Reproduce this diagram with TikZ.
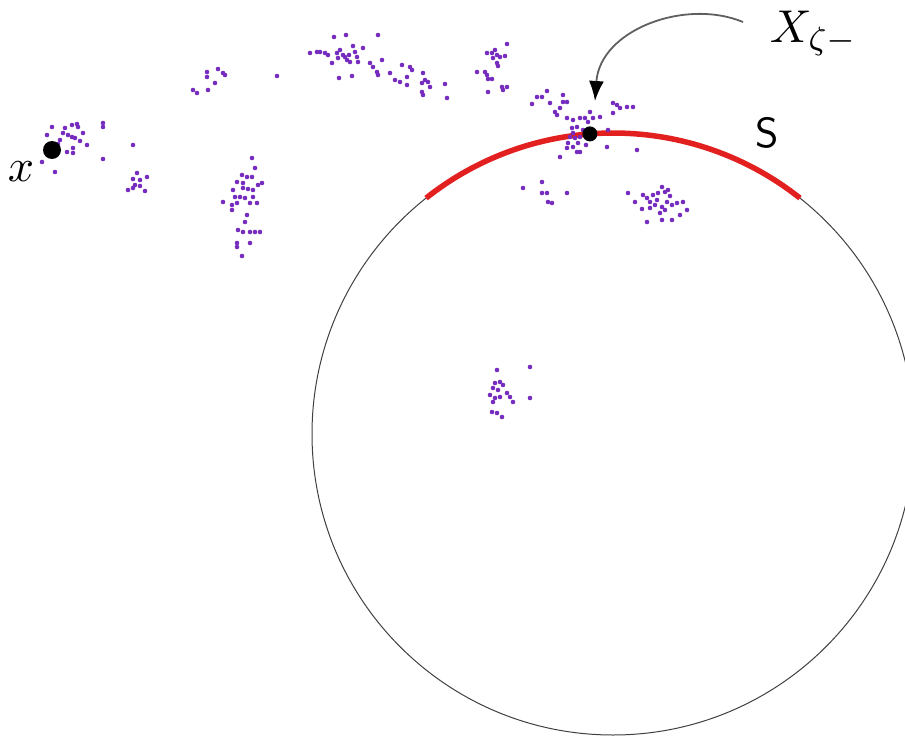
\documentclass[tikz,border=0pt]{standalone}
\usetikzlibrary{arrows.meta,calc}
\definecolor{pdot}{RGB}{118,44,190}
\definecolor{arcred}{RGB}{226,32,32}
\definecolor{arrgray}{RGB}{95,95,95}
\begin{document}
\begin{tikzpicture}[x=1pt,y=1pt,
  scatter/.style={fill=pdot},
  bigdot/.style={circle,fill=black,inner sep=0pt},
  ring/.style={draw=black!75,line width=1pt},
  redarc/.style={draw=arcred,line width=5.5pt},
  pointer/.style={draw=arrgray,line width=1.8pt,-{Latex[length=20pt,width=15pt,fill=black,color=black]}},
  lab/.style={inner sep=0pt,anchor=base}]
\useasboundingbox (0,0) rectangle (905,-738);
\coordinate (c) at (613,-434);
% big circle
\draw[ring] (c) circle (301pt);
% red arc S
\draw[redarc] ($(c)+(128.4:301pt)$) arc[start angle=128.4,end angle=51.6,radius=301pt];
% purple scatter
\foreach \x/\y in {
 52/127,65/128,72/125,77/124,78/127,83/133,68/135,72/137,75/138,63/133,47/135,87/145,73/148,73/153,67/152,42/162,55/172,103/123,103/127,103/159,133/145,60/140,58/144,80/141,
 137/173,133/179,140/180,147/177,135/185,140/186,128/190,145/191,133/188,
 193/90,197/93,207/72,207/77,218/69,223/73,225/75,215/83,208/90,277/76,
 310/53,317/52,320/52,325/53,328/55,334/37,346/35,378/35,337/53,340/50,343/55,347/60,350/62,353/46,355/52,357/57,358/62,363/48,332/63,339/78,352/76,370/63,373/67,377/72,378/75,382/60,390/73,395/80,400/82,402/65,407/77,410/67,412/70,407/85,423/73,425/80,428/82,422/83,430/87,422/92,423/95,445/84,447/98,345/57,349/55,338/58,
 507/44,495/50,487/53,492/53,497/55,500/57,505/56,493/58,497/63,498/66,477/72,485/72,487/75,488/79,492/79,502/87,507/87,503/90,488/92,
 532/104,537/97,542/97,547/91,550/103,555/112,557/115,560/108,563/95,563/102,567/102,567/118,573/120,577/127,580/118,585/118,588/122,590/112,593/118,600/117,608/130,607/147,613/103,617/105,620/108,613/113,627/107,633/107,573/133,570/137,568/143,573/147,578/143,577/152,580/152,560/157,567/148,575/138,580/137,583/130,586/145,572/128,
 523/188,542/182,542/193,547/193,567/193,548/202,552/203,637/150,
 252/158,255/168,242/175,247/177,252/177,237/182,243/183,262/183,258/185,233/190,243/188,248/189,253/190,235/197,240/197,245/198,253/197,223/202,232/205,237/203,250/203,257/203,232/210,247/215,245/222,238/230,243/232,250/232,255/232,260/232,237/243,250/243,237/247,242/256,
 628/193,635/202,643/195,647/198,650/202,653/195,657/200,662/187,658/193,665/192,670/196,667/202,672/205,662/207,677/203,683/202,687/210,642/209,650/208,660/213,662/220,672/220,680/215,647/222,665/210,668/190,655/205,
 497/370,530/367,495/383,500/382,503/385,493/388,498/390,490/395,495/398,500/397,507/393,510/397,513/402,493/402,530/398,492/412,497/413,502/417}
  \fill[scatter] (\x,-\y) circle (2.3pt);
% marked points
\node[bigdot,minimum size=18pt] (xdot) at (52,-150) {};
\node[bigdot,minimum size=15pt] (Xdot) at ($(c)+(94.4:301pt)$) {};
% labels
\node[lab,scale=4.6] (xlab) at (21,-182) {$x$};
\node[lab,anchor=base west,scale=4.6] (Xlab) at (769,-43) {$X_{\zeta-}$};
\node[lab,scale=4.2,font=\sffamily] (Slab) at (767,-148) {S};
% pointer arrow
\coordinate (astart) at (743,-22);
\coordinate (atip) at (595,-101);
\draw[pointer] (astart) .. controls (685,2) and (600,-30) .. (atip);
\end{tikzpicture}
\end{document}
